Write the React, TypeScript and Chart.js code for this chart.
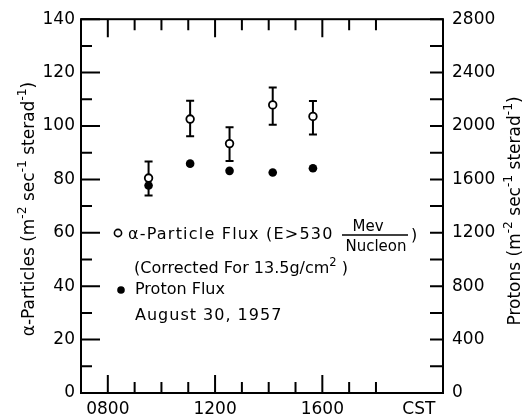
import React, { useEffect, useRef } from 'react';
import { Chart, registerables } from 'chart.js';

Chart.register(...registerables);

// ---- data ----
const times = [9.52, 11.07, 12.54, 14.15, 15.65]; // hours CST
const alphaFlux = [80.5, 102.6, 93.4, 107.9, 103.6];
const alphaLow = [74.0, 96.2, 86.9, 100.5, 96.8];
const alphaHigh = [86.7, 109.5, 99.5, 114.4, 109.4];
const protonFlux = [1554, 1718, 1664, 1652, 1684];

const xMajorTicks = [8, 12, 16];
const xTickLabels = ['0800', '1200', '1600'];
const xMinorTicks = [9, 10, 11, 13, 14, 15, 17, 18];
const xUnitLabel = 'CST';
const xUnitPos = 19.6;
const leftTicks = [0, 20, 40, 60, 80, 100, 120, 140];
const leftMinorTicks = [10, 30, 50, 70, 90, 110, 130];
const rightTicks = [0, 400, 800, 1200, 1600, 2000, 2400, 2800];
const rightMinorTicks = [200, 600, 1000, 1400, 1800, 2200, 2600];

const FONT = '"DejaVu Sans", sans-serif';

type Run = { t: string; sup?: boolean };

function runsWidth(ctx: CanvasRenderingContext2D, runs: Run[], size: number) {
  let w = 0;
  for (const r of runs) {
    ctx.font = `${r.sup ? size * 0.72 : size}px ${FONT}`;
    w += ctx.measureText(r.t).width;
  }
  return w;
}

function drawRuns(ctx: CanvasRenderingContext2D, runs: Run[], x: number, y: number, size: number) {
  let cx = x;
  for (const r of runs) {
    ctx.font = `${r.sup ? size * 0.72 : size}px ${FONT}`;
    ctx.fillText(r.t, cx, r.sup ? y - size * 0.42 : y);
    cx += ctx.measureText(r.t).width;
  }
  return cx;
}

const leftTitle: Run[] = [
  { t: 'α-Particles (m' }, { t: '-2', sup: true }, { t: ' sec' }, { t: '-1', sup: true },
  { t: ' sterad' }, { t: '-1', sup: true }, { t: ')' },
];
const rightTitle: Run[] = [
  { t: 'Protons (m' }, { t: '-2', sup: true }, { t: ' sec' }, { t: '-1', sup: true },
  { t: ' sterad' }, { t: '-1', sup: true }, { t: ')' },
];

const errorBarPlugin = {
  id: 'errorBars',
  beforeDatasetsDraw(chart: any) {
    const { ctx } = chart;
    const xs = chart.scales.x;
    const ys = chart.scales.y;
    ctx.save();
    ctx.strokeStyle = '#000';
    ctx.lineWidth = 2;
    times.forEach((t, i) => {
      const x = xs.getPixelForValue(t);
      const yl = ys.getPixelForValue(alphaLow[i]);
      const yh = ys.getPixelForValue(alphaHigh[i]);
      ctx.beginPath();
      ctx.moveTo(x, yh);
      ctx.lineTo(x, yl);
      ctx.moveTo(x - 4, yh);
      ctx.lineTo(x + 4, yh);
      ctx.moveTo(x - 4, yl);
      ctx.lineTo(x + 4, yl);
      ctx.stroke();
    });
    ctx.restore();
  },
};

const framePlugin = {
  id: 'frame',
  afterDraw(chart: any) {
    const { ctx, chartArea: a } = chart;
    const xs = chart.scales.x;
    const ys = chart.scales.y;
    const y2 = chart.scales.y2;
    ctx.save();
    ctx.strokeStyle = '#000';
    ctx.fillStyle = '#000';
    ctx.lineWidth = 2;
    ctx.strokeRect(a.left, a.top, a.right - a.left, a.bottom - a.top);
    ctx.beginPath();
    leftTicks.forEach((v) => {
      const y = ys.getPixelForValue(v);
      ctx.moveTo(a.left, y);
      ctx.lineTo(a.left + 19, y);
    });
    leftMinorTicks.forEach((v) => {
      const y = ys.getPixelForValue(v);
      ctx.moveTo(a.left, y);
      ctx.lineTo(a.left + 11, y);
    });
    [...rightTicks, ...rightMinorTicks].forEach((v) => {
      const y = y2.getPixelForValue(v);
      ctx.moveTo(a.right, y);
      ctx.lineTo(a.right - 13, y);
    });
    xMajorTicks.forEach((v) => {
      const x = xs.getPixelForValue(v);
      ctx.moveTo(x, a.bottom);
      ctx.lineTo(x, a.bottom - 18);
      ctx.moveTo(x, a.top);
      ctx.lineTo(x, a.top + 18);
    });
    xMinorTicks.forEach((v) => {
      const x = xs.getPixelForValue(v);
      ctx.moveTo(x, a.bottom);
      ctx.lineTo(x, a.bottom - 11);
      ctx.moveTo(x, a.top);
      ctx.lineTo(x, a.top + 11);
    });
    ctx.stroke();

    // axis titles
    ctx.textBaseline = 'middle';
    ctx.textAlign = 'left';
    const ts = 17;
    let w = runsWidth(ctx, leftTitle, ts);
    ctx.save();
    ctx.translate(30, 209);
    ctx.rotate(-Math.PI / 2);
    drawRuns(ctx, leftTitle, -w / 2, 0, ts);
    ctx.restore();
    w = runsWidth(ctx, rightTitle, ts);
    ctx.save();
    ctx.translate(516, 211);
    ctx.rotate(-Math.PI / 2);
    drawRuns(ctx, rightTitle, -w / 2, 0, ts);
    ctx.restore();

    // legend block
    ctx.textBaseline = 'alphabetic';
    const ls = 16;
    ctx.lineWidth = 1.6;
    ctx.beginPath();
    ctx.arc(118, 233, 3.6, 0, Math.PI * 2);
    ctx.fillStyle = '#fff';
    ctx.fill();
    ctx.stroke();
    ctx.fillStyle = '#000';
    ctx.font = `${ls}px ${FONT}`;
    (ctx as any).letterSpacing = '1.2px';
    ctx.fillText('α-Particle Flux (E>530', 128, 239);
    (ctx as any).letterSpacing = '0px';
    ctx.textAlign = 'center';
    ctx.font = `${15}px ${FONT}`;
    ctx.fillText('Mev', 368, 231);
    ctx.fillText('Nucleon', 376, 251);
    ctx.lineWidth = 1.5;
    ctx.beginPath();
    ctx.moveTo(342, 235);
    ctx.lineTo(408, 235);
    ctx.stroke();
    ctx.textAlign = 'left';
    ctx.font = `${ls}px ${FONT}`;
    ctx.fillText(')', 411, 240);
    drawRuns(ctx, [{ t: '(Corrected For 13.5g/cm' }, { t: '2', sup: true }, { t: ' )' }], 134, 273, ls);
    ctx.beginPath();
    ctx.arc(121, 290, 3.8, 0, Math.PI * 2);
    ctx.fill();
    ctx.font = `${ls}px ${FONT}`;
    ctx.fillText('Proton Flux', 135, 294);
    (ctx as any).letterSpacing = '1px';
    ctx.fillText('August 30, 1957', 135, 320);
    (ctx as any).letterSpacing = '0px';
    ctx.restore();
  },
};

export default function App() {
  const ref = useRef<HTMLCanvasElement | null>(null);
  useEffect(() => {
    document.body.style.margin = '0';
    const canvas = ref.current;
    if (!canvas) return;
    const tickFont = { family: FONT, size: 17 };
    const chart = new Chart(canvas, {
      type: 'scatter',
      data: {
        datasets: [
          {
            label: 'α-Particle Flux',
            data: times.map((t, i) => ({ x: t, y: alphaFlux[i] })),
            yAxisID: 'y',
            pointRadius: 3.8,
            pointBackgroundColor: '#fff',
            pointBorderColor: '#000',
            pointBorderWidth: 1.8,
            showLine: false,
          },
          {
            label: 'Proton Flux',
            data: times.map((t, i) => ({ x: t, y: protonFlux[i] })),
            yAxisID: 'y2',
            pointRadius: 4.3,
            pointBackgroundColor: '#000',
            pointBorderColor: '#000',
            pointBorderWidth: 0,
            showLine: false,
          },
        ],
      },
      options: {
        responsive: false,
        animation: false,
        devicePixelRatio: 1,
        layout: { padding: { top: 15, left: 0, right: 0, bottom: 0 } },
        plugins: { legend: { display: false }, tooltip: { enabled: false } },
        scales: {
          x: {
            type: 'linear',
            position: 'bottom',
            min: 7,
            max: 20.5,
            grid: { display: false, drawTicks: false },
            border: { display: false },
            afterBuildTicks: (s: any) => {
              s.ticks = [...xMajorTicks, xUnitPos].map((v) => ({ value: v }));
            },
            afterFit: (s: any) => {
              s.height = 21;
            },
            ticks: {
              autoSkip: false,
              maxRotation: 0,
              padding: 6,
              color: '#000',
              font: tickFont,
              callback: (v: any) => {
                const i = xMajorTicks.indexOf(v);
                if (i >= 0) return xTickLabels[i];
                if (v === xUnitPos) return xUnitLabel;
                return '';
              },
            },
          },
          y: {
            type: 'linear',
            position: 'left',
            min: 0,
            max: 140,
            grid: { display: false, drawTicks: false },
            border: { display: false },
            afterBuildTicks: (s: any) => {
              s.ticks = leftTicks.map((v) => ({ value: v }));
            },
            afterFit: (s: any) => {
              s.width = 81;
            },
            ticks: { padding: 6, color: '#000', font: tickFont, callback: (v: any) => String(v) },
          },
          y2: {
            type: 'linear',
            position: 'right',
            min: 0,
            max: 2800,
            grid: { display: false, drawTicks: false },
            border: { display: false },
            afterBuildTicks: (s: any) => {
              s.ticks = rightTicks.map((v) => ({ value: v }));
            },
            afterFit: (s: any) => {
              s.width = 86;
            },
            ticks: { padding: 9, color: '#000', font: tickFont, callback: (v: any) => String(v) },
          },
        },
      },
      plugins: [errorBarPlugin, framePlugin],
    });
    return () => chart.destroy();
  }, []);
  return <canvas ref={ref} width={529} height={414} style={{ display: 'block' }} />;
}
